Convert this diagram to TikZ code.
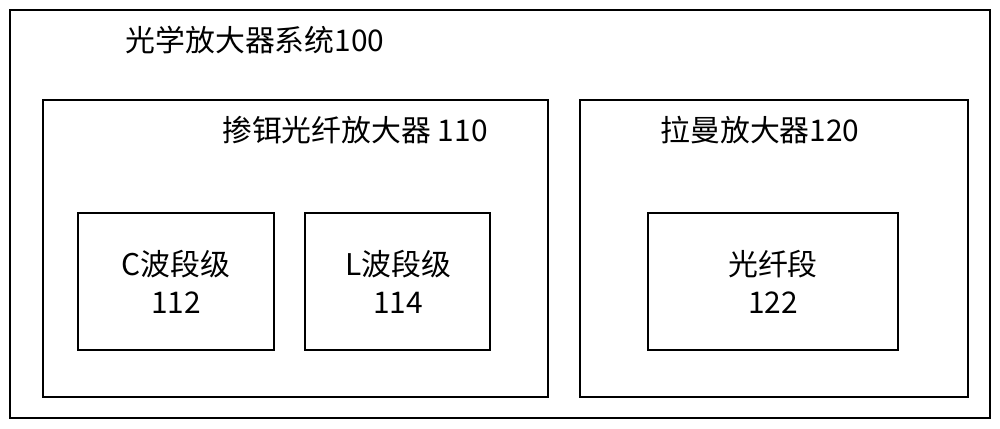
\documentclass[tikz,border=0pt]{standalone}
\usepackage{fontspec}
\setmainfont{Noto Sans CJK SC}
\begin{document}
\begin{tikzpicture}[x=0.02cm,y=-0.02cm,
  box/.style={draw,line width=1.2pt},
  lbl/.style={font=\fontsize{17}{22}\selectfont,align=center,inner sep=0pt}]
\useasboundingbox (0,0) rectangle (1000,429);
\draw[box] (10,10) rectangle (990,418);
\draw[box] (43,100) rectangle (548,397);
\draw[box] (580,100) rectangle (968,397);
\draw[box] (78,213) rectangle (274,350);
\draw[box] (305,213) rectangle (490,350);
\draw[box] (648,213) rectangle (898,350);
\node[lbl] (t0) at (255,40) {光学放大器系统100};
\node[lbl] (t1) at (355,130) {掺铒光纤放大器 110};
\node[lbl] (t2) at (760,130) {拉曼放大器120};
\node[lbl] (c) at (176,282) {C波段级\\112};
\node[lbl] (l) at (398,282) {L波段级\\114};
\node[lbl] (f) at (773,282) {光纤段\\122};
\end{tikzpicture}
\end{document}
